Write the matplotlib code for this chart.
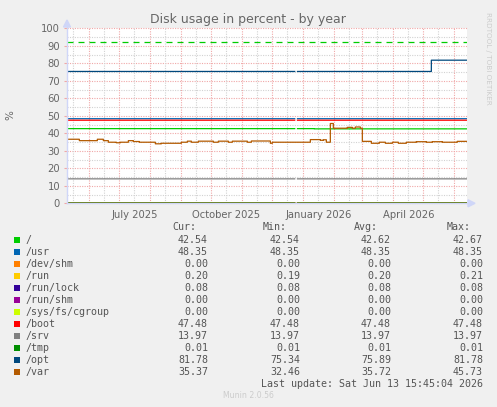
import datetime as dt
import matplotlib
matplotlib.use("Agg")
import matplotlib.pyplot as plt
import matplotlib.dates as mdates
from matplotlib.patches import Rectangle
import numpy as np

# ---- data -------------------------------------------------------------
end_time = dt.datetime(2026, 6, 13, 15, 45, 4)
start_time = end_time - dt.timedelta(days=400)
gap_start = dt.datetime(2025, 12, 24)
gap_end = dt.datetime(2025, 12, 25, 12)

names = ["/", "/usr", "/dev/shm", "/run", "/run/lock", "/run/shm",
         "/sys/fs/cgroup", "/boot", "/srv", "/tmp", "/opt", "/var"]
colors = ["#00CC00", "#0066B3", "#FF8000", "#FFCC00", "#330099", "#990099",
          "#CCFF00", "#FF0000", "#808080", "#008F00", "#00487D", "#B35A00"]
cur = ["42.54", "48.35", "0.00", "0.20", "0.08", "0.00", "0.00", "47.48", "13.97", "0.01", "81.78", "35.37"]
mins = ["42.54", "48.35", "0.00", "0.19", "0.08", "0.00", "0.00", "47.48", "13.97", "0.01", "75.34", "32.46"]
avgs = ["42.62", "48.35", "0.00", "0.20", "0.08", "0.00", "0.00", "47.48", "13.97", "0.01", "75.89", "35.72"]
maxs = ["42.67", "48.35", "0.00", "0.21", "0.08", "0.00", "0.00", "47.48", "13.97", "0.01", "81.78", "45.73"]

# step series: dates where the value changes
root_dates = ["2025-05-09", "2026-01-12"]
root_vals = [42.67, 42.54]
opt_dates = ["2025-05-09", "2026-05-09"]
opt_vals = [75.34, 81.78]
flat_vals = {"/usr": 48.35, "/dev/shm": 0.0, "/run": 0.20, "/run/lock": 0.08,
             "/run/shm": 0.0, "/sys/fs/cgroup": 0.0, "/boot": 47.48,
             "/srv": 13.97, "/tmp": 0.01}

var_dates = ["2025-05-09", "2025-05-22", "2025-06-09", "2025-06-15", "2025-06-20",
             "2025-06-28", "2025-07-02", "2025-07-10", "2025-07-15", "2025-07-21",
             "2025-08-06", "2025-08-12", "2025-08-15", "2025-09-01", "2025-09-07",
             "2025-09-11", "2025-09-18", "2025-10-03", "2025-10-08", "2025-10-18",
             "2025-10-22", "2025-11-06", "2025-11-10", "2025-11-29", "2025-12-01",
             "2025-12-06", "2025-12-13", "2026-01-08", "2026-01-18", "2026-01-21",
             "2026-01-24", "2026-01-28", "2026-01-31", "2026-02-14", "2026-02-19",
             "2026-02-22", "2026-02-27", "2026-03-01", "2026-03-10", "2026-03-18",
             "2026-03-24", "2026-03-31", "2026-04-06", "2026-04-14", "2026-04-24",
             "2026-05-04", "2026-05-10", "2026-05-20", "2026-06-04"]
var_vals = [36.6, 35.8, 36.6, 35.8, 34.9, 34.6, 34.9, 35.8, 35.3, 34.9,
            34.0, 34.3, 34.3, 34.9, 35.5, 34.9, 35.5, 34.9, 35.5, 34.9,
            35.5, 34.9, 35.6, 34.3, 34.9, 34.9, 34.9, 36.4, 36.0, 36.3,
            34.9, 45.6, 42.9, 43.4, 42.9, 43.6, 42.9, 35.4, 34.3, 34.9,
            34.3, 34.9, 34.3, 34.9, 35.2, 34.9, 35.2, 34.9, 35.4]
warning_level = 92

y_ticks = [0, 10, 20, 30, 40, 50, 60, 70, 80, 90, 100]
x_labels = ["July 2025", "October 2025", "January 2026", "April 2026"]
x_label_dates = ["2025-07-16", "2025-10-16", "2026-01-16", "2026-04-16"]

# ---- figure -----------------------------------------------------------
W, H = 497, 407
fig = plt.figure(figsize=(W / 100, H / 100), dpi=100, facecolor="#F0F0F0")
px0, px1, py0, py1 = 67, 467, 28.3, 203.3
ax = fig.add_axes([px0 / W, 1 - py1 / H, (px1 - px0) / W, (py1 - py0) / H])
ax.set_facecolor("white")
for s in ax.spines.values():
    s.set_visible(False)

t0, t1 = mdates.date2num(start_time), mdates.date2num(end_time)
ax.set_xlim(t0, t1)
ax.set_ylim(0, 100)

def d(s):
    return mdates.date2num(dt.datetime.fromisoformat(s))

# grid
minor_c, major_c = "#D2D2D2", "#F0A8A8"
dots = (0, (1, 1.2))
for y in np.arange(5, 100, 10):
    ax.axhline(y, color=minor_c, lw=0.8, ls=dots, zorder=1)
for y in y_ticks:
    ax.axhline(y, color=major_c, lw=0.8, ls=dots, zorder=1, clip_on=False)
m = dt.datetime(2025, 6, 1)
while m <= end_time:
    ax.axvline(mdates.date2num(m + dt.timedelta(days=15)), color=minor_c, lw=0.8, ls=dots, zorder=1)
    ax.axvline(mdates.date2num(m), color=major_c, lw=0.8, ls=dots, zorder=1)
    m = dt.datetime(m.year + (m.month // 12), m.month % 12 + 1, 1)
ax.axvline(mdates.date2num(dt.datetime(2025, 5, 16)), color=minor_c, lw=0.8, ls=dots, zorder=1)

# warning line
ax.axhline(warning_level, color="#00CC00", lw=0.9, ls=(0, (4.8, 4.0)), zorder=2)

# series
def gapped(dates, vals):
    xs = [d(a) for a in dates] + [t1]
    ys = list(vals) + [vals[-1]]
    xs = np.array(xs); ys = np.array(ys, dtype=float)
    g0, g1 = mdates.date2num(gap_start), mdates.date2num(gap_end)
    ins = np.searchsorted(xs, g0)
    xs = np.insert(xs, ins, [g0, g1])
    ys = np.insert(ys, ins, [np.nan, ys[ins - 1]])
    return xs, ys

for name, col in zip(names, colors):
    if name == "/":
        xs, ys = gapped(root_dates, root_vals)
    elif name == "/opt":
        xs, ys = gapped(opt_dates, opt_vals)
    elif name == "/var":
        xs = [d(a) for a in var_dates] + [t1]
        ys = var_vals + [var_vals[-1]]
    else:
        xs, ys = gapped([root_dates[0]], [flat_vals[name]])
    ax.plot(xs, ys, color=col, lw=0.9, drawstyle="steps-post", zorder=3,
            solid_capstyle="butt", snap=False)

# axes lines + arrows
ax.plot([0, 0], [0, 1.02], transform=ax.transAxes, color="#CFD6F8", lw=1, clip_on=False, zorder=4)
ax.plot([0, 1.0], [0, 0], transform=ax.transAxes, color="#CFD6F8", lw=1, clip_on=False, zorder=2)
fig.patches.append(plt.Polygon([[(px0 - 3.5) / W, 1 - 27 / H], [(px0 + 3.5) / W, 1 - 27 / H],
                                [px0 / W, 1 - 20 / H]], closed=True, color="#CFD6F8",
                               transform=fig.transFigure))
fig.patches.append(plt.Polygon([[(px1 + 1) / W, 1 - (py1 - 3.5) / H], [(px1 + 1) / W, 1 - (py1 + 3.5) / H],
                                [(px1 + 8) / W, 1 - py1 / H]], closed=True, color="#CFD6F8",
                               transform=fig.transFigure))

# ticks
ax.set_yticks(y_ticks)
ax.set_yticklabels([str(v) for v in y_ticks])
ax.tick_params(axis="y", length=2, color=major_c, pad=3, labelsize=7.2, labelcolor="#666666")
ax.set_xticks([d(s) for s in x_label_dates])
ax.set_xticklabels(x_labels)
ax.tick_params(axis="x", length=0, pad=5, labelsize=7.2, labelcolor="#666666")

# texts
fig.text(248 / W, 1 - 19 / H, "Disk usage in percent - by year", ha="center", va="center",
         fontsize=9.0, color="#666666")
fig.text(10 / W, 1 - 115 / H, "%", rotation=90, ha="center", va="center", fontsize=7.5, color="#666666")
fig.text(488 / W, 1 - 58 / H, "RRDTOOL / TOBI OETIKER", rotation=270, ha="center", va="center",
         fontsize=5.2, color="#CCCCCC")
fig.text(248 / W, 1 - 396 / H, "Munin 2.0.56", ha="center", va="center", fontsize=5.6, color="#CCCCCC")

mono = dict(family="DejaVu Sans Mono", fontsize=7.2, color="#555555", va="center")
hy = 227
fig.text(172 / W, 1 - hy / H, "Cur:", ha="left", **mono)
fig.text(263 / W, 1 - hy / H, "Min:", ha="left", **mono)
fig.text(354 / W, 1 - hy / H, "Avg:", ha="left", **mono)
fig.text(447 / W, 1 - hy / H, "Max:", ha="left", **mono)
for i, name in enumerate(names):
    y = 240 + 12 * i
    fig.patches.append(Rectangle((14 / W, 1 - (y + 3) / H), 6 / W, 6 / H, transform=fig.transFigure,
                                 facecolor=colors[i], edgecolor="none"))
    fig.text(26 / W, 1 - y / H, name, ha="left", **mono)
    fig.text(208 / W, 1 - y / H, cur[i], ha="right", **mono)
    fig.text(300 / W, 1 - y / H, mins[i], ha="right", **mono)
    fig.text(391 / W, 1 - y / H, avgs[i], ha="right", **mono)
    fig.text(483 / W, 1 - y / H, maxs[i], ha="right", **mono)
fig.text(483 / W, 1 - 384 / H, "Last update: Sat Jun 13 15:45:04 2026", ha="right", **mono)

fig.savefig("out.png", dpi=100, facecolor=fig.get_facecolor())
